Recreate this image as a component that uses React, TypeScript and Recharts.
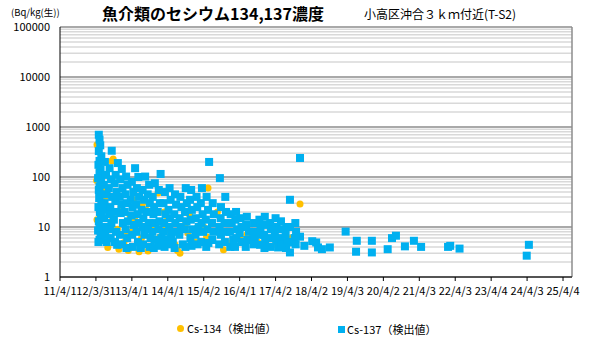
import React from "react";
import {
  ScatterChart,
  Scatter,
  XAxis,
  YAxis,
  CartesianGrid,
} from "recharts";

// x = years since 2011/4/1, y = Bq/kg (raw)
const yearTicks = [0, 1, 2, 3, 4, 5, 6, 7, 8, 9, 10, 11, 12, 13, 14];
const dateLabels = [
  "11/4/1", "12/3/31", "13/4/1", "14/4/1", "15/4/2", "16/4/1", "17/4/2", "18/4/2",
  "19/4/3", "20/4/2", "21/4/3", "22/4/3", "23/4/4", "24/4/3", "25/4/4",
];
const decadeTicks = [1, 10, 100, 1000, 10000, 100000];

const cs134: [number, number][] = [
  [1.03, 440], [1.08, 380], [1.44, 210], [1.48, 230], [1.02, 85], [1.25, 35], [1.03, 14],
  [1.47, 15], [1.95, 17], [2.07, 15], [1.86, 8.1], [2.0, 8.1], [1.33, 3.9], [1.64, 3.6],
  [1.78, 4.9], [2.27, 6], [2.45, 3.3], [2.97, 8.7], [3.2, 4.4], [3.34, 3.0], [3.27, 3.4],
  [4.12, 60], [4.38, 20], [3.81, 9.5], [4.08, 6.4], [3.56, 7.6], [2.04, 35], [2.4, 22],
  [2.73, 48], [2.78, 6.3], [2.96, 10.5], [3.76, 5], [4.7, 4.8], [6.68, 29], [6.45, 6.0],
  [1.1, 150], [1.2, 60], [1.5, 40], [1.7, 25], [2.2, 12], [2.6, 10], [3.0, 15], [3.5, 12],
  [4.0, 10], [4.3, 8], [5.0, 6], [5.5, 5], [6.0, 4.5], [1.35, 10], [1.6, 9], [2.3, 30],
  [2.9, 20], [3.1, 5], [3.6, 18], [5.2, 7], [1.9, 3.4], [2.2, 3.2], [4.55, 3.5],
];

const cs137: [number, number][] = [
  [1.08, 700], [1.1, 560], [1.12, 430], [1.08, 330], [1.15, 260], [1.1, 210], [1.07, 175],
  [1.13, 140], [1.1, 120], [1.06, 95], [1.14, 80], [1.1, 65], [1.08, 55], [1.12, 45],
  [1.09, 38], [1.15, 30], [1.07, 25], [1.11, 20], [1.14, 16], [1.08, 13], [1.1, 10],
  [1.06, 8.5], [1.13, 7], [1.1, 5.5], [1.07, 5], [1.44, 335],
  [1.25, 200], [1.28, 110], [1.22, 70], [1.3, 45], [1.24, 30], [1.27, 22], [1.23, 15],
  [1.29, 10], [1.26, 7], [1.3, 5],
  [1.38, 150], [1.42, 90], [1.36, 60], [1.45, 40], [1.4, 25], [1.37, 18], [1.43, 12],
  [1.39, 9], [1.41, 6],
  [1.61, 190], [1.55, 110], [1.52, 75], [1.58, 50], [1.54, 33], [1.57, 20], [1.5, 14],
  [1.56, 8], [1.53, 5], [1.59, 4.4],
  [1.72, 145], [1.68, 90], [1.74, 60], [1.66, 40], [1.71, 28], [1.69, 19], [1.75, 12],
  [1.67, 7], [1.73, 4.5],
  [1.84, 102], [1.88, 70], [1.82, 45], [1.86, 30], [1.8, 20], [1.89, 13], [1.83, 9],
  [1.87, 6], [1.85, 3.8],
  [2.09, 150], [2.0, 80], [2.04, 50], [1.97, 35], [2.02, 25], [1.99, 17], [2.06, 11],
  [2.01, 7], [2.03, 4],
  [2.18, 100], [2.14, 60], [2.2, 40], [2.12, 28], [2.16, 18], [2.19, 12], [2.13, 8],
  [2.17, 5], [2.25, 3.8],
  [2.37, 102], [2.3, 55], [2.34, 35], [2.27, 22], [2.32, 15], [2.29, 10], [2.35, 7], [2.31, 4.5],
  [2.48, 70], [2.44, 45], [2.5, 30], [2.42, 20], [2.47, 12], [2.45, 9], [2.52, 6], [2.5, 4],
  [2.64, 75], [2.58, 40], [2.62, 25], [2.6, 18], [2.66, 12], [2.57, 8], [2.63, 5.5], [2.61, 3.8],
  [2.8, 115], [2.75, 55], [2.78, 30], [2.72, 20], [2.77, 13], [2.74, 9], [2.82, 6], [2.76, 4.2],
  [2.92, 50], [2.88, 30], [2.94, 18], [2.9, 12], [2.87, 8], [2.93, 5.5], [2.91, 4],
  [3.05, 60], [3.08, 35], [3.02, 22], [3.06, 15], [3.04, 10], [3.09, 7], [3.03, 4.5],
  [3.2, 45], [3.23, 28], [3.18, 18], [3.21, 12], [3.17, 8], [3.14, 5], [3.19, 3.8],
  [3.35, 40], [3.38, 25], [3.33, 15], [3.36, 10], [3.32, 7], [3.42, 4.5],
  [3.5, 60], [3.53, 30], [3.48, 20], [3.52, 13], [3.47, 9], [3.49, 4],
  [3.65, 55], [3.62, 35], [3.67, 22], [3.64, 14], [3.68, 9], [3.63, 6], [3.66, 4.2],
  [3.8, 40], [3.82, 25], [3.78, 15], [3.86, 10], [3.77, 7], [3.83, 4.5],
  [3.95, 60], [3.92, 30], [3.97, 18], [3.94, 12], [3.98, 8], [3.93, 5],
  [4.08, 40], [4.12, 22], [4.06, 14], [4.1, 9], [4.13, 4.8], [4.07, 4],
  [4.15, 200],
  [4.25, 30], [4.28, 18], [4.23, 12], [4.27, 8], [4.24, 5.5],
  [4.45, 95], [4.48, 25], [4.47, 15], [4.44, 10], [4.48, 7], [4.43, 4.5],
  [4.6, 40], [4.62, 20], [4.58, 12], [4.63, 8], [4.59, 5],
  [4.75, 18], [4.78, 12], [4.73, 8], [4.82, 5.5], [4.74, 4],
  [4.9, 20], [4.88, 14], [4.93, 9], [4.91, 6], [4.87, 4],
  [5.02, 15], [5.05, 10], [5.0, 7.5], [5.04, 5],
  [5.2, 16], [5.18, 11], [5.26, 8], [5.21, 5.5], [5.17, 4],
  [5.4, 12], [5.38, 8], [5.42, 6], [5.39, 4.5],
  [5.55, 14], [5.58, 10], [5.53, 7], [5.57, 4.4],
  [5.7, 16], [5.72, 11], [5.68, 7], [5.71, 5], [5.69, 3.8],
  [5.85, 12], [5.87, 9], [5.83, 6], [5.86, 4],
  [6.0, 15], [6.03, 10], [5.98, 7], [6.02, 5.4], [6.07, 3.9],
  [6.15, 13], [6.17, 9], [6.13, 6], [6.16, 4.5],
  [6.3, 10], [6.28, 7], [6.32, 5], [6.29, 3.8],
  [6.4, 35], [6.4, 10], [6.4, 4.9], [6.4, 3.1],
  [6.55, 12], [6.57, 8], [6.53, 6], [6.56, 4.5],
  [6.68, 240], [6.68, 6.4], [6.8, 4.2], [7.02, 5.2], [7.13, 4.9], [7.18, 3.9], [7.29, 3.6],
  [7.51, 3.9], [7.95, 8.1], [8.26, 5.3], [8.24, 3.2], [8.68, 5.3], [8.68, 3.1], [9.12, 3.6],
  [9.24, 6.0], [9.35, 6.7], [9.6, 4.1], [9.85, 5.3], [10.05, 4.0], [10.8, 4.0], [10.86, 4.2],
  [11.12, 3.7], [13.05, 4.4], [12.99, 2.67],
];

// 2..9 x 10^n lines between the decades
const minorLines: number[] = [];
decadeTicks.slice(0, -1).forEach((d) => {
  for (let m = 2; m <= 9; m++) minorLines.push(m * d);
});

const toPoints = (rows: [number, number][]) => rows.map(([x, y]) => ({ x, y }));

const FONT = '"Noto Sans CJK JP", "Noto Sans", sans-serif';
const ORANGE = "#FFC000";
const BLUE = "#00B0F0";

const Dot = (props: any) => (
  <circle cx={props.cx} cy={props.cy} r={3.5} fill={ORANGE} />
);
const Square = (props: any) => (
  <rect x={props.cx - 4} y={props.cy - 4} width={8} height={8} fill={BLUE} />
);

export default function App() {
  return (
    <div style={{ position: "absolute", left: 0, top: 0, width: 591, height: 340, background: "#fff", fontFamily: FONT }}>
      <div style={{ position: "absolute", left: 11, top: 5, fontSize: 9.5, lineHeight: "14px", whiteSpace: "nowrap" }}>
        (Bq/kg(生))
      </div>
      <div style={{ position: "absolute", left: 213, top: 3, transform: "translateX(-50%)", fontSize: 16, fontWeight: 700, lineHeight: "20px", whiteSpace: "nowrap" }}>
        魚介類のセシウム134,137濃度
      </div>
      <div style={{ position: "absolute", left: 440, top: 6, transform: "translateX(-50%)", fontSize: 12, lineHeight: "16px", whiteSpace: "nowrap" }}>
        小高区沖合３ｋｍ付近(T-S2)
      </div>

      <ScatterChart width={591} height={340} margin={{ top: 27, right: 19, bottom: 33, left: 0 }}>
        <CartesianGrid horizontalValues={minorLines} vertical={false} stroke="#d9d9d9" strokeWidth={1.5} />
        <CartesianGrid horizontalValues={decadeTicks} verticalValues={[14.25]} stroke="#8c8c8c" strokeWidth={1.5} />
        <XAxis
          type="number"
          dataKey="x"
          domain={[0, 14.25]}
          ticks={yearTicks}
          interval={0}
          tickFormatter={(v: number) => dateLabels[v] ?? ""}
          tick={{ fontSize: 11, fill: "#000", fontFamily: FONT }}
          tickSize={4}
          tickMargin={6}
          stroke="#000"
          height={30}
          allowDataOverflow
        />
        <YAxis
          type="number"
          dataKey="y"
          scale="log"
          domain={[1, 100000]}
          ticks={decadeTicks}
          interval={0}
          tick={{ fontSize: 11, fill: "#000", fontFamily: FONT }}
          tickLine={false}
          tickMargin={4}
          stroke="#000"
          width={60}
          allowDataOverflow
        />
        <Scatter data={toPoints(cs134)} shape={Dot} isAnimationActive={false} />
        <Scatter data={toPoints(cs137)} shape={Square} isAnimationActive={false} />
      </ScatterChart>

      <div style={{ position: "absolute", left: 177, top: 325, width: 7, height: 7, borderRadius: "50%", background: ORANGE }} />
      <div style={{ position: "absolute", left: 187, top: 320, fontSize: 11, lineHeight: "16px", whiteSpace: "nowrap" }}>
        Cs-134（検出値）
      </div>
      <div style={{ position: "absolute", left: 338, top: 326, width: 7, height: 7, background: BLUE }} />
      <div style={{ position: "absolute", left: 347, top: 321, fontSize: 11, lineHeight: "16px", whiteSpace: "nowrap" }}>
        Cs-137（検出値）
      </div>
    </div>
  );
}
